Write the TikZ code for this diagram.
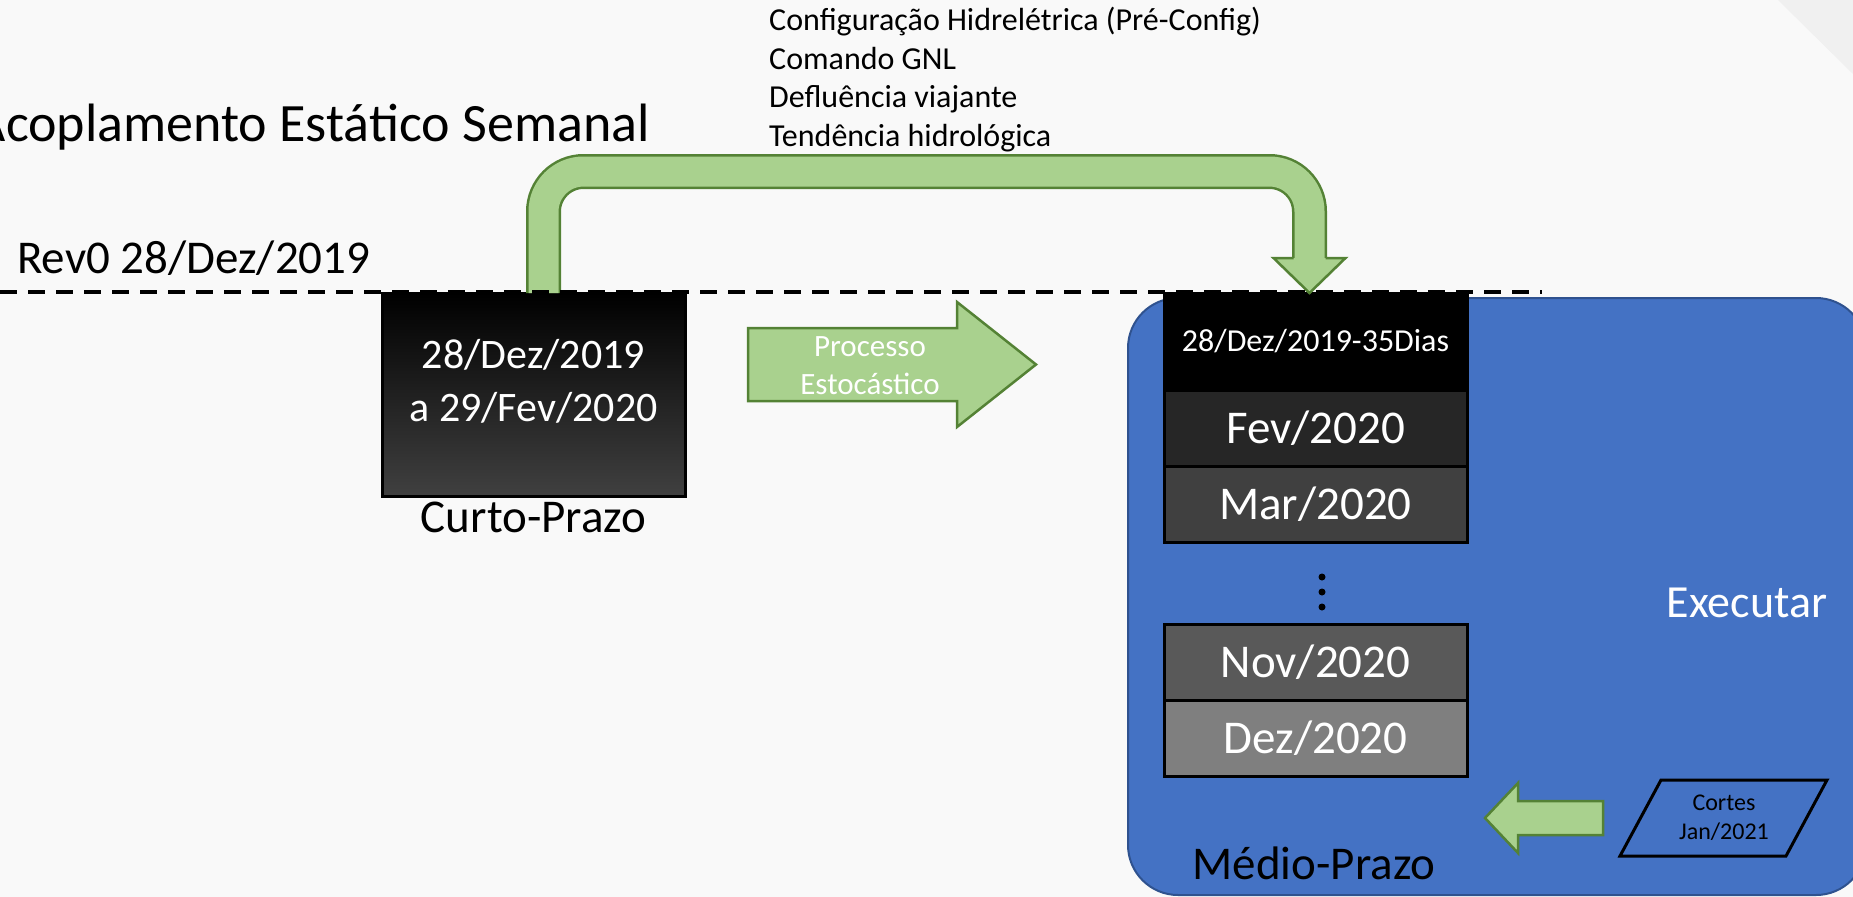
\documentclass[tikz,border=0pt]{standalone}
\usepackage{fontspec}
\setmainfont{Carlito}
\usetikzlibrary{positioning,calc}
\definecolor{verdeclaro}{HTML}{A9D18E}
\definecolor{verdeescuro}{HTML}{548235}
\definecolor{azul}{HTML}{4472C4}
\definecolor{azulescuro}{HTML}{2F528F}
\definecolor{fundo}{HTML}{F9F9F9}
\definecolor{cinza1}{HTML}{262626}
\definecolor{cinza2}{HTML}{404040}
\definecolor{cinza3}{HTML}{595959}
\definecolor{cinza4}{HTML}{7F7F7F}
\tikzstyle{mes} = [draw=black, line width=3pt, outer sep=0pt, minimum width=303pt, minimum height=76pt, text=white, font=\fontsize{47}{56}\selectfont]
\tikzstyle{seta} = [fill=verdeclaro, draw=verdeescuro, line width=2.5pt, line join=miter]
\tikzstyle{fluxo} = [draw=verdeescuro, double=verdeclaro, double distance=30pt, line width=2.5pt, rounded corners=40pt]
\tikzstyle{linha} = [dash pattern=on 17pt off 11pt, line width=4.5pt]

\begin{document}
\begin{tikzpicture}[x=1pt, y=-1pt]

	\useasboundingbox (0,0) rectangle (1853,897);
	\fill[fundo] (0,0) rectangle (1853,897);
	\fill[gray!12] (1778,0) -- (1853,0) -- (1853,74) -- cycle;

	\node (Titulo) [anchor=base east, inner sep=0pt, font=\fontsize{54}{65}\selectfont] at (650,141) {Acoplamento Estático Semanal};
	\node (Rev) [anchor=base west, inner sep=0pt, font=\fontsize{47}{56}\selectfont] at (17,273) {Rev0 28/Dez/2019};

	\node (Dados) [anchor=north west, align=left, inner sep=0pt, font=\fontsize{32}{38.5}\selectfont] at (769,7) {Configuração Hidrelétrica (Pré-Config)\\Comando GNL\\Defluência viajante\\Tendência hidrológica};

	%% Curto-Prazo
	\node (CP) [draw, line width=3pt, outer sep=0pt, minimum width=303pt, minimum height=203pt, top color=black, bottom color=cinza2,
		label={[text=white, align=center, yshift=13pt, font=\fontsize{42}{53}\selectfont]center:{28/Dez/2019\\a 29/Fev/2020}}] at (533.5,394.5) {};
	\node (CPnome) [anchor=base, inner sep=0pt, font=\fontsize{47}{56}\selectfont] at (533.5,532) {Curto-Prazo};

	%% Médio-Prazo
	\node (MP) [draw=azulescuro, fill=azul, line width=2pt, rounded corners=50pt, outer sep=0pt, minimum width=738pt, minimum height=597pt] at (1497,596.5) {};

	\node (M0) [mes, fill=black, minimum height=97pt, font=\fontsize{32}{38}\selectfont] at (1315.5,341.5) {28/Dez/2019-35Dias};
	\node (Fev) [mes, fill=cinza1, below=0pt of M0] {Fev/2020};
	\node (Mar) [mes, fill=cinza2, below=0pt of Fev] {Mar/2020};
	\node (Nov) [mes, fill=cinza3] at (1315.5,662.5) {Nov/2020};
	\node (Dez) [mes, fill=cinza4, below=0pt of Nov] {Dez/2020};
	\foreach \y in {577,592,607} \fill (1322,\y) circle (3.5pt);

	\node (Exec) [text=white, font=\fontsize{46}{55}\selectfont] at (1747,603) {Executar};
	\node (MPnome) [anchor=base, inner sep=0pt, font=\fontsize{47}{56}\selectfont] at (1314,879) {Médio-Prazo};

	\node (Cortes) [align=center, font=\fontsize{24}{29}\selectfont] at (1724,818) {Cortes\\Jan/2021};
	\draw[line width=3pt, line join=miter] (Cortes.center) ++(-63,-38) -- ++(166,0) -- ++(-41,76) -- ++(-166,0) -- cycle;

	%% Fleches
	\draw[seta] (1603,801) -- (1518,801) -- (1518,783) -- (1485,818) -- (1518,853) -- (1518,835) -- (1603,835) -- cycle;

	\draw[seta] (748,328) -- (957,328) -- (957,302) -- (1036,364.5) -- (957,427) -- (957,401) -- (748,401) -- cycle;
	\node (Proc) [align=center, text=white, font=\fontsize{31}{38}\selectfont] at (870,366) {Processo\\Estocástico};

	\coordinate (Base) at ([xshift=-6pt,yshift=35pt]M0.north);
	\draw[fluxo] ([xshift=10pt]CP.north) |- ($(Base)+(0,-86.5)$) -- (Base);
	\fill[verdeclaro] ([xshift=-36pt]Base) -- ([xshift=-6pt]M0.north) -- ([xshift=36pt]Base) -- cycle;
	\draw[verdeescuro, line width=2.5pt, line join=miter] ([xshift=-16pt]Base) -- ([xshift=-36pt]Base) -- ([xshift=-6pt]M0.north) -- ([xshift=36pt]Base) -- ([xshift=16pt]Base);

	\draw[linha] (0,292) -- (1542,292);

\end{tikzpicture}
\end{document}
